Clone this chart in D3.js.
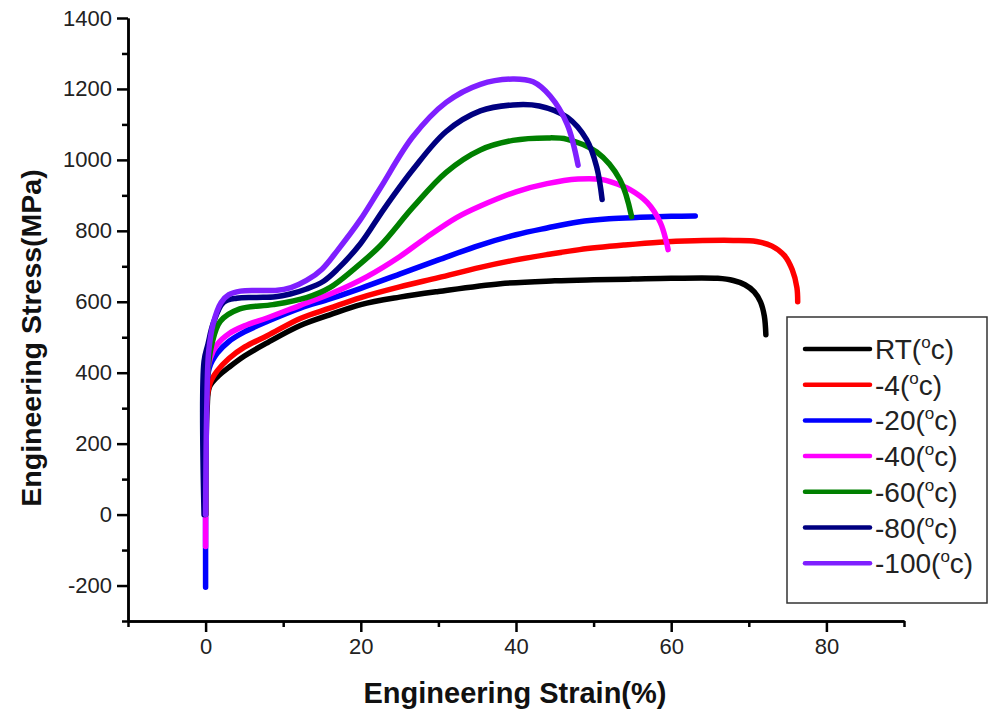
<!DOCTYPE html>
<html>
<head>
<meta charset="utf-8">
<script src="https://cdn.jsdelivr.net/npm/d3@7/dist/d3.min.js"></script>
<style>
  html, body { margin: 0; padding: 0; background: #fff; }
  svg { display: block; font-family: "Liberation Sans", Arial, sans-serif; }
</style>
</head>
<body>
<svg id="chart" width="989" height="719"></svg>
<script>
// ---------- DATA ----------
const seriesLabels = ["RT", "-4", "-20", "-40", "-60", "-80", "-100"];
const xMajorTicks = [0, 20, 40, 60, 80];
const xMinorTicks = [-10, 10, 30, 50, 70, 90];
const yMajorTicks = [-200, 0, 200, 400, 600, 800, 1000, 1200, 1400];
const yMinorTicks = [-300, -100, 100, 300, 500, 700, 900, 1100, 1300];

// [strain %, stress MPa]
const curveRT = [[0,0],[0.2,300],[0.5,360],[1.5,388],[3,415],[5,447],[8,485],[12.2,533],[16,563],[20,592],[25,613],[30,629],[38,651],[45,659],[50,662],[55,664],[60,666],[66,666],[68,660],[69.5,648],[70.7,628],[71.5,600],[72,560],[72.2,507]];
const curveM4 = [[0,0],[0.2,330],[0.6,372],[1.5,405],[3,440],[5,472],[8,505],[12.2,553],[16,582],[20,612],[25,642],[30,668],[35.4,697],[40,718],[44,733],[48.2,747],[54,760],[58.5,768],[63,772],[68,773],[71,770],[73,757],[74.6,730],[75.6,690],[76.2,640],[76.3,600]];
const curveM20 = [[0,-205],[0,0],[0.1,340],[0.5,415],[1.5,455],[3,488],[5,515],[8,545],[12.2,582],[16,608],[20,638],[25,678],[30,718],[35.4,760],[40,789],[44,808],[48,825],[52,834],[56,838],[60,841],[63.1,842]];
const curveM40 = [[0,-90],[0,0],[0.15,380],[0.6,440],[1.5,480],[3,510],[5,532],[8,555],[12.2,590],[16.5,626],[20.8,671],[25,727],[28.5,782],[32.4,838],[35.4,870],[40,910],[44,933],[48,946],[51,945],[52.5,936],[54.7,916],[56.9,880],[58.6,823],[59.4,767],[59.6,747]];
const curveM60 = [[0,0],[0.2,380],[0.8,480],[1.9,545],[4.4,580],[8.7,592],[13,612],[16,640],[19,690],[22.5,758],[26.7,866],[31,965],[35.4,1028],[39.6,1055],[44,1062],[46.6,1058],[50.4,1022],[53.4,944],[54.9,840]];
const curveM80 = [[-0.2,0],[-0.2,432],[0.3,480],[1,540],[2.3,598],[4,610],[6.6,612],[9,614],[10.9,622],[13,636],[15.2,658],[17,692],[20,765],[23,862],[26.7,972],[31,1080],[35.4,1138],[39.6,1155],[43,1152],[46.6,1120],[49.1,1057],[50.4,980],[51.1,888]];
const curveM100 = [[0,0],[0.15,300],[0.4,460],[1,540],[2,598],[3,620],[4.5,630],[6.5,632],[9,632],[11,640],[13,660],[15,692],[17,745],[19.9,830],[22.5,920],[26.7,1065],[31,1162],[35.4,1213],[39.6,1228],[42.2,1220],[44.4,1180],[46.6,1100],[48,985]];

const curves = [curveRT, curveM4, curveM20, curveM40, curveM60, curveM80, curveM100];

// ---------- STYLE ----------
const colors = ["#000000", "#ff0000", "#0000ff", "#ff00ff", "#008000", "#000080", "#7f1fff"];

const svg = d3.select("#chart");
const x = d3.scaleLinear().domain([-10, 90]).range([128, 904]);
const y = d3.scaleLinear().domain([-300, 1400]).range([621, 18]);

// curves
const line = d3.line()
  .x(d => x(d[0]))
  .y(d => y(d[1]))
  .curve(d3.curveCatmullRom.alpha(0.5));

svg.append("g").selectAll("path")
  .data(curves)
  .join("path")
  .attr("d", d => line(d))
  .attr("fill", "none")
  .attr("stroke", (d, i) => colors[i])
  .attr("stroke-width", 5.5)
  .attr("stroke-linecap", "round")
  .attr("stroke-linejoin", "round");

// axes
const fmt = d => String(d);
function styleAxis(g) {
  g.selectAll("path.domain").attr("stroke", "#000").attr("stroke-width", 2.5);
  g.selectAll(".tick line").attr("stroke", "#000").attr("stroke-width", 2.5);
  g.selectAll(".tick text").attr("fill", "#222").style("font-size", "22px")
    .style("font-family", "'Liberation Sans', Arial, sans-serif");
}

const xAxisMinor = svg.append("g").attr("transform", "translate(0,621)")
  .call(d3.axisBottom(x).tickValues(xMinorTicks).tickSize(6).tickFormat("").tickSizeOuter(0));
styleAxis(xAxisMinor);
const xAxis = svg.append("g").attr("transform", "translate(0,621)")
  .call(d3.axisBottom(x).tickValues(xMajorTicks).tickSize(11).tickPadding(6).tickFormat(fmt).tickSizeOuter(0));
styleAxis(xAxis);

const yAxisMinor = svg.append("g").attr("transform", "translate(128,0)")
  .call(d3.axisLeft(y).tickValues(yMinorTicks).tickSize(6).tickFormat("").tickSizeOuter(0));
styleAxis(yAxisMinor);
const yAxis = svg.append("g").attr("transform", "translate(128,0)")
  .call(d3.axisLeft(y).tickValues(yMajorTicks).tickSize(11).tickPadding(5).tickFormat(fmt).tickSizeOuter(0));
styleAxis(yAxis);

// axis titles
svg.append("text")
  .attr("x", 515).attr("y", 703)
  .attr("text-anchor", "middle")
  .style("font-size", "29px").style("font-weight", "bold").attr("fill", "#111")
  .text("Engineering Strain(%)");

svg.append("text")
  .attr("transform", "translate(41,338) rotate(-90)")
  .attr("text-anchor", "middle")
  .style("font-size", "28.5px").style("font-weight", "bold").attr("fill", "#111")
  .text("Engineering Stress(MPa)");

// legend
const legend = svg.append("g");
legend.append("rect")
  .attr("x", 787).attr("y", 317).attr("width", 200).attr("height", 286)
  .attr("fill", "#fff").attr("stroke", "#333").attr("stroke-width", 1.5);

const rows = legend.selectAll("g.row")
  .data(seriesLabels)
  .join("g")
  .attr("class", "row")
  .attr("transform", (d, i) => `translate(0,${349 + i * 35.7})`);

rows.append("line")
  .attr("x1", 805).attr("x2", 870).attr("y1", 0).attr("y2", 0)
  .attr("stroke", (d, i) => colors[i]).attr("stroke-width", 4.5)
  .attr("stroke-linecap", "round");

const lt = rows.append("text")
  .attr("x", 875).attr("y", 10)
  .style("font-size", "28px").attr("fill", "#222");
lt.append("tspan").text(d => d + "(");
lt.append("tspan").attr("dy", -11).style("font-size", "17px").text("o");
lt.append("tspan").attr("dy", 11).text("c)");
</script>
</body>
</html>
